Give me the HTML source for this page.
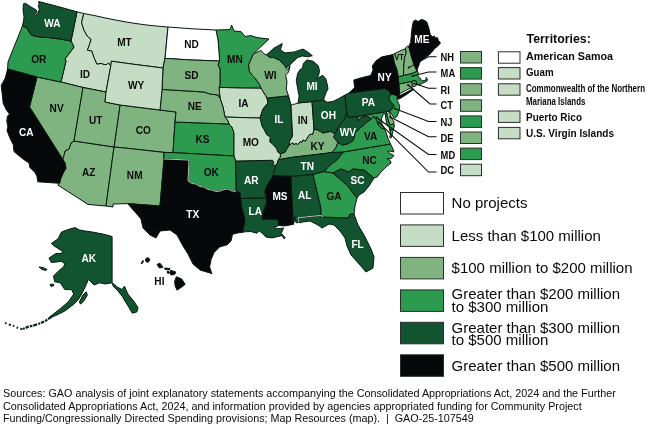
<!DOCTYPE html>
<html lang="en">
<head>
<meta charset="utf-8">
<title>Community Project Funding by State</title>
<style>
html,body{margin:0;padding:0;background:#fff;}
body{width:650px;height:426px;overflow:hidden;position:relative;font-family:"Liberation Sans",Arial,Helvetica,sans-serif;}
svg{position:absolute;left:0;top:0;display:block;will-change:transform;}
svg text{font-family:"Liberation Sans",Arial,Helvetica,sans-serif;}
.st path{stroke:#08180e;stroke-width:1;stroke-linejoin:round;}
.lb text{font-weight:bold;font-size:10.5px;text-anchor:middle;}
.lb .w{fill:#fff;}
.lb .k{fill:#0a0a0a;}
.ld path{fill:none;stroke:#0a0a0a;stroke-width:1.05;}
.sw rect{stroke:#2a2f2b;stroke-width:1;}
.ab text{font-weight:bold;font-size:10.3px;fill:#0a0a0a;}
.tr text{font-weight:bold;font-size:10.4px;fill:#0a0a0a;}
.lg text{font-size:15px;fill:#0a0a0a;}
.ft text{font-size:10.78px;fill:#0a0a0a;white-space:pre;}
</style>
</head>
<body>
<svg width="650" height="426" viewBox="0 0 650 426">
<rect width="650" height="426" fill="#fff"/>

<g class="st">
<path id="AK" fill="#125430" d="M74.9,227.6 79.4,229.9 85,231 94,232.3 105.3,234.6 112.1,236.6 112.1,282.8 117.7,287.3 122.2,289.6 124.5,286.2 127.8,294 133.5,300.8 138,307.6 136.8,312 132.3,313.2 129,307.6 125.6,302 122.2,296.3 117.7,290.7 113.2,286.2 112.1,282.8 105.3,284 99.7,282.8 94,285 90.7,281.7 88.4,279.4 85,287.3 81.7,294 78.3,299.7 73.8,304.2 64.8,311 55.8,315.5 50.1,317.7 50.1,316.6 60.3,308.7 68.2,302 73.8,294 71.5,289.6 64.8,289.6 62.5,286.2 60.3,282.8 54.6,281.7 53.5,276 59.1,270.4 63.6,267 64.8,263.7 61.4,261.4 51.3,262.5 49,258 55.8,253.5 61.4,253.5 62.5,251.3 53.5,245.6 51.3,243.4 58,238.9 61.4,232.1 68,229.6ZM79.4,302 82.8,295.2 86.2,291.8 87.3,295.2 83.9,300.8 80.5,304.2ZM39,267 43,267.5 47,269.5 46,270.5 42,269.5ZM50,284.5 53,284 54,285.5 51,286.5Z"/>
<path id="AL" fill="#125430" d="M290.8,176.4 313,174.4 320,204 321,209 321,215.4 298,217.7 299,222 296.6,222.8 295.9,222.4 294.9,216.6 293.9,222.8 293.2,224.4Z"/>
<path id="AR" fill="#125430" d="M235.5,161 272.6,160.3 273.8,162.3 272.6,165.2 276.1,165.2 274.4,170.5 273.2,175.8 269.8,181.3 266.3,186.9 264.9,192.5 266.8,198.2 240.4,198.5 240,193 236,191.4Z"/>
<path id="AZ" fill="#7fb480" d="M74,141 114,147 106,206 88,204.4 57.8,185 59.5,183.3 60.6,178.9 63.3,172.7 65.9,168.3 65,163 62.8,159.5 65,151 69,149 71,143Z"/>
<path id="CO" fill="#7fb480" d="M120,105 160,110 176,112 175,122 173,152.6 164,152.4 130,148.6 114,147Z"/>
<path id="CT" fill="#7fb480" d="M398.8,84 411.8,81.4 412.5,87 405.4,90.6 399.6,93.6Z"/>
<path id="DE" fill="#7fb480" d="M386.3,111.6 389.5,110.9 390,114.3 391.9,119 394,121.7 393.8,124 389.8,124.8 387,116.3Z"/>
<path id="FL" fill="#125430" d="M354,214 358,225 364,235 371,249 374,257 373,268 366,272 360,265 351,255 347,246 345,238 340,231 334,225 329,224 322,228 318,225 310,221 302,222 300,223 298,217.7 321,215.4 323,217 348,218 350,214Z"/>
<path id="GA" fill="#2c9a4f" d="M313,174.4 324,171.5 333,173 340,179 348,186 353,193 357,198 355,206 354,214 350,214 348,218 323,217 321,215.4 321,209 320,204Z"/>
<path id="IA" fill="#c6ddc5" d="M219,87.4 240,87.8 261,88 267,98 268,103 263,109 260,118 243,117.6 225,117 223,107 220,98Z"/>
<path id="ID" fill="#c6ddc5" d="M77,11.8 83.8,13.5 81.6,22.5 83.8,29.8 87.4,36.3 91.1,39.3 89.6,44.3 87.4,50.2 91.8,50.9 94,57.4 96.9,64 101,63.4 104.9,64.6 107,64.4 108.5,62.8 110,65.2 110.8,65.8 106,92 83,87.5 61,82 66,61 65,59 74,47 71,41Z"/>
<path id="IL" fill="#125430" d="M267,98 288.5,95.8 291,105 292.6,136 289.6,141.2 289.1,145.3 286.7,149.4 285,152.3 282,153.5 280.3,153.5 277.9,152.3 276.7,148.8 272.6,144.1 269.7,141.7 270.3,137 266.7,134.7 264.4,130 262,126 260,118 263,109 268,103Z"/>
<path id="IN" fill="#c6ddc5" d="M291,105 292.4,104.4 294.6,104.2 298,103 312,101.6 314,129 313.7,131 312.6,134.7 310.2,134.1 307.9,137 305.5,141.2 303.2,140 302,142.3 300.2,141.7 297.9,144.7 296.1,143.5 293.8,144.7 292.6,142.9 289.1,145.3 289.6,141.2 292.6,136Z"/>
<path id="KS" fill="#2c9a4f" d="M175,122 229,124 232,127 234,133 234,156 173,152.6Z"/>
<path id="KY" fill="#7fb480" d="M280.3,153.5 282,153.5 285,152.3 286.7,149.4 289.1,145.3 292.6,142.9 293.8,144.7 296.1,143.5 297.9,144.7 300.2,141.7 302,142.3 303.2,140 305.5,141.2 307.9,137 310.2,134.1 312.6,134.7 313.7,131 314,129 317.8,130 323.2,133 326.2,132.2 330.8,131.4 333.9,133 335,133.5 333.8,137.6 337.9,142.3 336,147.5 332,152.4 325,153.5 290.2,157.6 280.8,159.4 278.5,159.4 280.3,157Z"/>
<path id="LA" fill="#125430" d="M240.4,198.5 266.8,198.2 266.3,203.8 264.8,208 263.5,211 262,219 278,219.2 278.8,225.4 278,226 274.6,226.7 275.2,228 278.3,228.7 283.6,228 282.9,229.5 281.3,233.3 285.2,237.7 284.2,239 282.1,235.6 278.3,236.4 272.2,237.9 266.1,237.1 262.3,233.3 259.2,231 256.9,233.3 250.8,231.5 244.7,231.8 242.7,232.3 243.5,227 245,220.8 244,215.4 242,208.5Z"/>
<path id="MA" fill="#2c9a4f" d="M398.1,76.8 403.5,75.4 411.2,73.6 414.5,72.3 417.4,71.2 418.6,73.5 417.8,75.5 419.5,77.4 421,79.5 422.2,81 424,80.5 425.6,80.2 426.2,78.9 426,77.4 427.4,79 427,81 424.5,82.5 422.8,83.1 421.1,84 418.6,84.8 416.8,84 415.8,80.7 411.8,81.4 398.8,84Z"/>
<path id="MD" fill="#2c9a4f" d="M357.3,116.4 386.3,111.6 387,116.3 389.8,124.8 393.8,124 394.5,125.8 393.4,129.5 389.8,130 389.2,127.2 387.2,125.6 385.8,119 385.4,113.4 383,114.6 381.4,119 382.2,124.5 384.9,129.4 381.4,128.2 378.4,125.3 376.7,120.6 374.3,116.4 370.8,119.4 369.6,117.6 365.5,115.9 361.4,117.6 357.9,121Z"/>
<path id="MI" fill="#125430" d="M266.3,54.9 273.8,48.2 282.3,43.5 280.4,50 285.1,52.9 294.5,51.9 303,49.1 307.7,51.9 312.3,55.7 307.7,56.8 302,55.9 297.3,57.8 292.6,62.3 288.9,66 286.2,68.2 284.2,65.1 279.5,60.4 273.8,57.6 270,57.6ZM306.8,59.9 303.3,63.5 302.6,68.4 300.5,69.1 297.7,73.3 296.3,80.4 297.7,88.8 299.1,95.8 298.6,100 298,103 312,101.6 323.6,100 324.4,97.3 325.8,93 328,88.8 327.3,84.6 325.8,78.9 323,75.4 320.2,76.6 316.9,79.2 318.8,74.7 319.5,70.5 318.1,65.6 313.2,61.3Z"/>
<path id="MN" fill="#2c9a4f" d="M216,30 230,29.6 231.6,25 234,31 241,31.6 245,36.4 251,35.6 255,37 260,38 269,39 261,46.5 253.4,54 250.5,60.5 248.6,65 249.5,71.5 252.5,75.5 255.2,78.2 259.5,84.5 261,88 240,87.8 219,87.4 220,85 220,69 218,65 219.6,61 219,52 218,40Z"/>
<path id="MO" fill="#c6ddc5" d="M225,117 243,117.6 260,118 262,126 264.4,130 266.7,134.7 270.3,137 269.7,141.7 272.6,144.1 276.7,148.8 277.9,152.3 280.3,153.5 280.3,157 278.5,159.4 277.3,163 276.1,165.2 272.6,165.2 273.8,162.3 272.6,160.3 235.5,161 234,156 234,133 232,127 229,124 228,121Z"/>
<path id="MT" fill="#c6ddc5" d="M83.8,13.5 95,15.7 106,18.1 115,19.9 125,21.8 135,23.4 145,24.8 155,25.9 168,27 165,58.4 163,68 130,63.8 111.4,61.2 110.8,65.8 110,65.2 108.5,62.8 107,64.4 104.9,64.6 101,63.4 96.9,64 94,57.4 91.8,50.9 87.4,50.2 89.6,44.3 91.1,39.3 87.4,36.3 83.8,29.8 81.6,22.5Z"/>
<path id="NC" fill="#2c9a4f" d="M343,152 390.5,144 393,149 393.8,152 390,151 387.5,151.5 390,153.5 394,155.5 391,158.8 387,158.5 390.5,161 391,163 386,167 381,172 377,177 374,178 364,170 353,169 349,172 341,169 333,173 324,171.5 330,165 337,160Z"/>
<path id="ND" fill="#ffffff" d="M168,27 192,28.8 216,30 218,40 219,52 219.6,61 192,60 165,58.4Z"/>
<path id="NE" fill="#7fb480" d="M162,89.4 204,92 210,94 218,95 220,98 223,107 225,117 228,121 229,124 175,122 176,112 160,110Z"/>
<path id="NH" fill="#7fb480" d="M405.5,48.6 405.9,47.4 407.8,46.1 408.8,46.5 411.1,55.5 413.6,63.7 416,69 417,70.6 417.4,71.2 414.5,72.3 411.2,73.6 403.5,75.4 403.6,68.5 403.8,63.5 404.6,57 406,53Z"/>
<path id="NJ" fill="#2c9a4f" d="M390.9,93.8 397.1,95.6 397.4,97.6 396.9,100 398.7,103.5 399.7,106.2 399.2,110.5 398.2,113.2 397,116.5 394.3,118 391.5,114.3 389.5,110.9 392.2,108.8 394.3,105.4 391.5,102.7 388.8,99.3 389.2,97.2Z"/>
<path id="NM" fill="#7fb480" d="M114,147 130,148.6 164,152.4 164,159 160,206 127.6,203.6 113,204 113,207 106,206Z"/>
<path id="NV" fill="#7fb480" d="M37,77 61,82 83,87.5 74,141 71,143 69,149 65,151 62.8,159.5 29.5,107Z"/>
<path id="OH" fill="#125430" d="M323.6,100 327.3,102.2 332.9,101.5 338.5,98.7 345,95 346.7,112.3 346.1,115.3 344.4,119.4 341.4,122.9 339.7,125.3 337.9,127.6 336.7,131.1 335,133.5 333.9,133 330.8,131.4 326.2,132.2 323.2,133 317.8,130 314,129 312,101.6Z"/>
<path id="OK" fill="#2c9a4f" d="M164,152.4 173,152.6 234,156 235.5,161 236,191.4 232,191 228,189 224,189.5 220,191 216,191.5 212,190 208,189.5 204,187 200,186.5 196,184 192,183.5 188,181 189,160 164,159Z"/>
<path id="OR" fill="#2c9a4f" d="M22.5,25.8 27.2,28.2 29.1,31.9 31,34.7 34.7,36.2 41.3,37.1 48.8,37.6 60,39 71,41 74,47 65,59 66,61 61,82 37,77 7.6,69 8,62Z"/>
<path id="PA" fill="#125430" d="M345,95 349,93 384.6,88.5 389.2,90.8 390.9,93.8 389.2,97.2 388.8,99.3 391.5,102.7 394.3,105.4 392.2,108.8 389.5,110.9 386.3,111.6 357.3,116.4 348.5,117.6 346.7,112.3Z"/>
<path id="RI" fill="#7fb480" d="M411.8,81.4 415.8,80.7 416.8,84 416.2,85.7 412.5,87Z"/>
<path id="SC" fill="#125430" d="M333,173 341,169 349,172 353,169 364,170 374,178 369,186 364,192 359,195 357,198 353,193 348,186 340,179Z"/>
<path id="SD" fill="#7fb480" d="M165,58.4 192,60 219.6,61 218,65 220,69 220,85 219,87.4 220,98 218,95 210,94 204,92 162,89.4 163,68Z"/>
<path id="TN" fill="#125430" d="M278.5,159.4 280.8,159.4 290.2,157.6 325,153.5 332,152.4 343,152 337,160 330,165 324,171.5 313,174.4 290.8,176.4 273.2,175.8 274.4,170.5 276.1,165.2 277.3,163Z"/>
<path id="UT" fill="#7fb480" d="M83,87.5 106,92 105,102 120,105 114,147 74,141Z"/>
<path id="VA" fill="#2c9a4f" d="M332,152.4 336,147.5 337.9,142.3 342.6,145.2 348.5,143.5 353.2,140.5 354.4,136.4 355,132.3 357.9,130.5 360.2,127.6 363.8,125.3 366.1,122.3 370.8,119.4 374.3,116.4 376.7,120.6 378.4,125.3 381.4,128.2 384.9,129.4 386.5,133.5 387.7,138 389.2,141 390.5,144 343,152ZM393.4,129.5 392.9,131.3 391.5,137.4 389.9,138 390.4,132.6 389.8,130Z"/>
<path id="VT" fill="#7fb480" d="M392.6,54.6 399.2,51.3 405.5,48.6 406,53 404.6,57 403.8,63.5 403.6,68.5 403.5,75.4 398.1,76.8 397.7,73.5 396.5,68.5 394.4,63.5Z"/>
<path id="WA" fill="#125430" d="M22.5,25.8 23.5,20.7 24,16.9 23,9.4 23.5,3.8 25.4,3.3 31,7 36.2,9.9 37.1,12.2 34.3,15 35.3,15.4 37.9,13.3 39.3,9.4 38.3,5.6 39.1,4.2 38.6,1.5 48,3.9 58,6.5 68,9.3 77,11.8 71,41 60,39 48.8,37.6 41.3,37.1 34.7,36.2 31,34.7 29.1,31.9 27.2,28.2Z"/>
<path id="WI" fill="#7fb480" d="M253.4,54 257.9,51.9 261.1,50.4 263.5,53.4 266.3,54.9 270,57.6 273.8,57.6 279.5,60.4 284.2,65.1 286.2,68.2 287.6,70 290,66.2 288.6,72 285.6,75 287,82 286.2,89 288.5,95.8 267,98 261,88 259.5,84.5 255.2,78.2 252.5,75.5 249.5,71.5 248.6,65 250.5,60.5Z"/>
<path id="WV" fill="#125430" d="M335,133.5 336.7,131.1 337.9,127.6 339.7,125.3 341.4,122.9 344.4,119.4 346.1,115.3 346.7,112.3 348.5,117.6 357.3,116.4 357.9,121 361.4,117.6 365.5,115.9 369.6,117.6 370.8,119.4 366.1,122.3 363.8,125.3 360.2,127.6 357.9,130.5 355,132.3 354.4,136.4 353.2,140.5 348.5,143.5 342.6,145.2 337.9,142.3 333.8,137.6Z"/>
<path id="WY" fill="#c6ddc5" d="M111.4,61.2 130,63.8 163,68 162,89.4 160,110 120,105 105,102 106,92 110.8,65.8Z"/>
<path id="CA" fill="#07080a" d="M7.6,69 37,77 29.5,107 62.8,159.5 65,163 65.9,168.3 63.3,172.7 60.6,178.9 59.5,183.3 37.8,181.8 36.9,176.2 35.1,172.7 29.9,167.4 29,163 23.7,159.5 19.3,156 14,151.6 13.2,144.6 9.7,137.6 7,130.5 7.9,127 6.8,121 7.4,116.1 9.5,114 6.3,109.8 3.2,103.4 2.1,92.9 1.2,85.5 5.3,78Z"/>
<path id="HI" fill="#07080a" d="M141.2,263.4 142.8,260.6 143.6,260.9 142,263.8ZM145.5,260 146.2,258.2 148,257.8 149.6,258.8 149.6,260.8 148.2,262.2 146.3,261.9ZM157,264.4 160,263.2 163,267.3 159.4,268ZM164.6,268 170,268.5 169.3,269.9 165.2,269.6ZM167,271.6 168.8,271.4 169.4,273 167.6,273.4ZM170.5,270.3 175.8,272 174.6,274.4 171,275 170,273.2ZM176.4,276.7 181.7,279 185.2,284.3 180.5,287.9 177,290.2 175.2,286 174.6,281.4Z"/>
<path id="ME" fill="#07080a" d="M408.8,46.5 410.6,42.4 411.3,35.4 412,28.3 413.4,21.3 415.5,20.1 418.3,21.5 421.1,19.6 423.9,20.1 426.8,22 428.9,28.3 430.3,34.6 432.4,36.8 434.5,36 435.2,38.2 437.3,37.5 438.4,40.3 440.5,43.1 437.3,46.6 434.5,48.7 431.7,52.3 428.9,55.1 425.4,57.4 422.5,59.6 420.2,61.6 419.4,63.6 418,67.4 417,70.6 416,69 413.6,63.7 411.1,55.5Z"/>
<path id="MS" fill="#07080a" d="M273.2,175.8 290.8,176.4 293.2,224.4 284.2,226 278.8,225.4 278,219.2 262,219 263.5,211 264.8,208 266.3,203.8 266.8,198.2 264.9,192.5 266.3,186.9 269.8,181.3Z"/>
<path id="NY" fill="#07080a" d="M349,93 354.6,87.7 353.8,80 361.5,77.7 370.8,75.4 373,70 372.3,66 376,60.8 381.5,57 392.6,54.6 394.4,63.5 396.5,68.5 397.7,73.5 398.1,76.8 398.8,84 399.6,93.6 399.5,95.7 406.1,92.5 413.1,88.6 413.7,89.4 406.1,94.8 400,98.6 397.8,99.3 397.4,97.6 397.1,95.6 390.9,93.8 389.2,90.8 384.6,88.5Z"/>
<path id="TX" fill="#07080a" d="M164,159 189,160 188,181 192,183.5 196,184 200,186.5 204,187 208,189.5 212,190 216,191.5 220,191 224,189.5 228,189 232,191 236,191.4 240,193 240.4,198.5 242,208.5 244,215.4 245,220.8 243.5,227 242.7,232.3 237.5,233 232.5,234.3 231,241 227.1,244.8 219.5,247 214.2,252.4 211.1,259.3 209.6,267 211.9,273.8 210,273 200,270 193,264 188,254 183,246 177,235 170,230 160,231 156,238 150,235 143,228 141,219 135,212 127.6,203.6 160,206Z"/>
</g>
<g fill="none">
<path d="M51.5,316.8 46,320.4 40.6,323.2 33,325.6 27.7,326.9 22.5,329.2" stroke="#0b2616" stroke-width="2.3" stroke-dasharray="4.2 0.9 2.6 1.1 3.4 1 1.8 1.2"/>
<path d="M22.5,329.2 18.5,328.2 13.8,326 9,324.5 3,322.2" stroke="#0b2616" stroke-width="2" stroke-dasharray="2.2 2.4 1.6 2.6 1.4 2.2"/>
<path d="M164,159 189,160 189,160 188,181 188,181 192,183.5 196,184 200,186.5 204,187 208,189.5 212,190 216,191.5 220,191 224,189.5 228,189 232,191 236,191.4" stroke="#fff" stroke-width="0.7"/>
<path d="M299,222 298,217.7 321,215.4 323,217" stroke="#fff" stroke-width="0.7"/>
</g>
<g class="lb">
<text class="w" transform="translate(52.3 27.3) scale(.96 1)">WA</text>
<text class="k" transform="translate(38.8 63) scale(.96 1)">OR</text>
<text class="w" transform="translate(26.2 136) scale(.96 1)">CA</text>
<text class="k" transform="translate(56.6 112.3) scale(.96 1)">NV</text>
<text class="k" transform="translate(85 77.5) scale(.96 1)">ID</text>
<text class="k" transform="translate(124.5 45.8) scale(.96 1)">MT</text>
<text class="k" transform="translate(136 89.2) scale(.96 1)">WY</text>
<text class="k" transform="translate(95.6 124) scale(.96 1)">UT</text>
<text class="k" transform="translate(88.8 175.5) scale(.96 1)">AZ</text>
<text class="k" transform="translate(134.7 179) scale(.96 1)">NM</text>
<text class="k" transform="translate(143.3 134.2) scale(.96 1)">CO</text>
<text class="k" transform="translate(191.5 48.2) scale(.96 1)">ND</text>
<text class="k" transform="translate(191.5 79.2) scale(.96 1)">SD</text>
<text class="k" transform="translate(194.7 110) scale(.96 1)">NE</text>
<text class="k" transform="translate(202.5 143) scale(.96 1)">KS</text>
<text class="k" transform="translate(211.3 176) scale(.96 1)">OK</text>
<text class="w" transform="translate(192.7 217.7) scale(.96 1)">TX</text>
<text class="k" transform="translate(234.9 63.2) scale(.96 1)">MN</text>
<text class="k" transform="translate(243.5 106.5) scale(.96 1)">IA</text>
<text class="k" transform="translate(250.8 145.6) scale(.96 1)">MO</text>
<text class="w" transform="translate(251.2 184.2) scale(.96 1)">AR</text>
<text class="w" transform="translate(255.2 214.7) scale(.96 1)">LA</text>
<text class="k" transform="translate(270.5 79) scale(.96 1)">WI</text>
<text class="w" transform="translate(279 122.6) scale(.96 1)">IL</text>
<text class="k" transform="translate(302.7 124.2) scale(.96 1)">IN</text>
<text class="w" transform="translate(312 90) scale(.96 1)">MI</text>
<text class="w" transform="translate(328.4 119.1) scale(.96 1)">OH</text>
<text class="k" transform="translate(317.4 149.6) scale(.96 1)">KY</text>
<text class="w" transform="translate(307.2 169.5) scale(.96 1)">TN</text>
<text class="w" transform="translate(280 200.1) scale(.96 1)">MS</text>
<text class="w" transform="translate(304.7 198.9) scale(.96 1)">AL</text>
<text class="k" transform="translate(334 199.7) scale(.96 1)">GA</text>
<text class="w" transform="translate(357.6 247.5) scale(.96 1)">FL</text>
<text class="w" transform="translate(357.5 183.5) scale(.96 1)">SC</text>
<text class="k" transform="translate(369.5 164) scale(.96 1)">NC</text>
<text class="k" transform="translate(370.6 140.3) scale(.96 1)">VA</text>
<text class="w" transform="translate(347.8 136.1) scale(.96 1)">WV</text>
<text class="w" transform="translate(368.5 105.8) scale(.96 1)">PA</text>
<text class="w" transform="translate(384.6 80.9) scale(.96 1)">NY</text>
<text class="w" transform="translate(421.8 43.2) scale(.96 1)">ME</text>
<text class="w" transform="translate(88.7 261.5) scale(.96 1)">AK</text>
<text class="k" transform="translate(159.4 285.3) scale(.96 1)">HI</text>
<text class="k" transform="translate(399 59.9) scale(.92 1)" style="font-size:8.2px">VT</text>
</g>
<g class="ld">
<path d="M408.8,67.6 419.5,61.6 428.5,56.7 436.5,56.7"/>
<path d="M412.6,75.9 428.5,72 436.5,72"/>
<path d="M414.3,83.6 428.5,88.3 436.5,88.3"/>
<path d="M408.1,85 430,104 436.5,104"/>
<path d="M395.2,108.7 428.5,121.5 436.5,121.5"/>
<path d="M390.2,117 428.5,136.7 436.5,136.7"/>
<path d="M376.8,117.7 428.5,154.4 436.5,154.4"/>
<path d="M379.2,122.6 428.5,172 436.5,172"/>
<circle cx="408.8" cy="67.6" r="1.1" fill="#111"/>
<circle cx="412.6" cy="75.9" r="1.1" fill="#111"/>
<circle cx="414.3" cy="83.6" r="1.1" fill="#111"/>
<circle cx="408.1" cy="85" r="1.1" fill="#111"/>
<circle cx="395.2" cy="108.7" r="1.1" fill="#111"/>
<circle cx="390.2" cy="117" r="1.1" fill="#111"/>
<circle cx="376.8" cy="117.7" r="1.1" fill="#111"/>
<circle cx="379.2" cy="122.6" r="1.1" fill="#111"/>
</g>
<g class="ab">
<text transform="translate(440.6 60.8) scale(.91 1)">NH</text>
<text transform="translate(440.6 77) scale(.91 1)">MA</text>
<text transform="translate(440.6 93.5) scale(.91 1)">RI</text>
<text transform="translate(440.6 109.4) scale(.91 1)">CT</text>
<text transform="translate(440.6 125.7) scale(.91 1)">NJ</text>
<text transform="translate(440.6 141.6) scale(.91 1)">DE</text>
<text transform="translate(440.6 159) scale(.91 1)">MD</text>
<text transform="translate(440.6 174.3) scale(.91 1)">DC</text>
</g>
<g class="sw">
<rect x="460.5" y="51.5" width="21" height="11.5" fill="#7fb480"/>
<rect x="460.5" y="67.6" width="21" height="11.5" fill="#2c9a4f"/>
<rect x="460.5" y="83.7" width="21" height="11.5" fill="#7fb480"/>
<rect x="460.5" y="99.8" width="21" height="11.5" fill="#7fb480"/>
<rect x="460.5" y="115.9" width="21" height="11.5" fill="#2c9a4f"/>
<rect x="460.5" y="132" width="21" height="11.5" fill="#7fb480"/>
<rect x="460.5" y="148.1" width="21" height="11.5" fill="#2c9a4f"/>
<rect x="460.5" y="164.2" width="21" height="11.5" fill="#c6ddc5"/>
<rect x="498.4" y="51.8" width="21.6" height="11.4" fill="#ffffff"/>
<rect x="498.4" y="67.6" width="21.6" height="11.4" fill="#c6ddc5"/>
<rect x="498.4" y="83.8" width="21.6" height="11.4" fill="#c6ddc5"/>
<rect x="498.4" y="111" width="21.6" height="11.4" fill="#c6ddc5"/>
<rect x="498.4" y="127.4" width="21.6" height="11.4" fill="#c6ddc5"/>
<rect x="400.5" y="192.5" width="43" height="21.5" fill="#ffffff"/>
<rect x="400.5" y="224.9" width="43" height="21.5" fill="#c6ddc5"/>
<rect x="400.5" y="257.4" width="43" height="21.5" fill="#7fb480"/>
<rect x="400.5" y="289.9" width="43" height="21.5" fill="#2c9a4f"/>
<rect x="400.5" y="322.3" width="43" height="21.5" fill="#125430"/>
<rect x="400.5" y="354.8" width="43" height="21.5" fill="#07080a"/>
</g>
<g class="tr">
<text x="526.6" y="42.8" style="font-size:12.2px" textLength="64.2" lengthAdjust="spacingAndGlyphs">Territories:</text>
<text x="526" y="59.6" textLength="87" lengthAdjust="spacingAndGlyphs">American Samoa</text>
<text x="526" y="75.6" textLength="27.6" lengthAdjust="spacingAndGlyphs">Guam</text>
<text x="526" y="92.2" textLength="119" lengthAdjust="spacingAndGlyphs">Commonwealth of the Northern</text>
<text x="526" y="104.6" textLength="59.4" lengthAdjust="spacingAndGlyphs">Mariana Islands</text>
<text x="526" y="120.8" textLength="56" lengthAdjust="spacingAndGlyphs">Puerto Rico</text>
<text x="526" y="137" textLength="88" lengthAdjust="spacingAndGlyphs">U.S. Virgin Islands</text>
</g>
<g class="lg">
<text x="451.6" y="208.3">No projects</text>
<text x="451.6" y="240.7">Less than $100 million</text>
<text x="451.6" y="273.2">$100 million to $200 million</text>
<text x="451.6" y="299.3">Greater than $200 million</text>
<text x="451.6" y="311.6">to $300 million</text>
<text x="451.6" y="332.7">Greater than $300 million</text>
<text x="451.6" y="344.7">to $500 million</text>
<text x="451.6" y="370.6">Greater than $500 million</text>
</g>
<g class="ft">
<text x="3" y="397.2">Sources: GAO analysis of joint explanatory statements accompanying the Consolidated Appropriations Act, 2024 and the Further</text>
<text x="3" y="409.7">Consolidated Appropriations Act, 2024, and information provided by agencies appropriated funding for Community Project</text>
<text x="3" y="422.2">Funding/Congressionally Directed Spending provisions; Map Resources (map).&#160; |&#160; GAO-25-107549</text>
</g>
</svg>
</body>
</html>
